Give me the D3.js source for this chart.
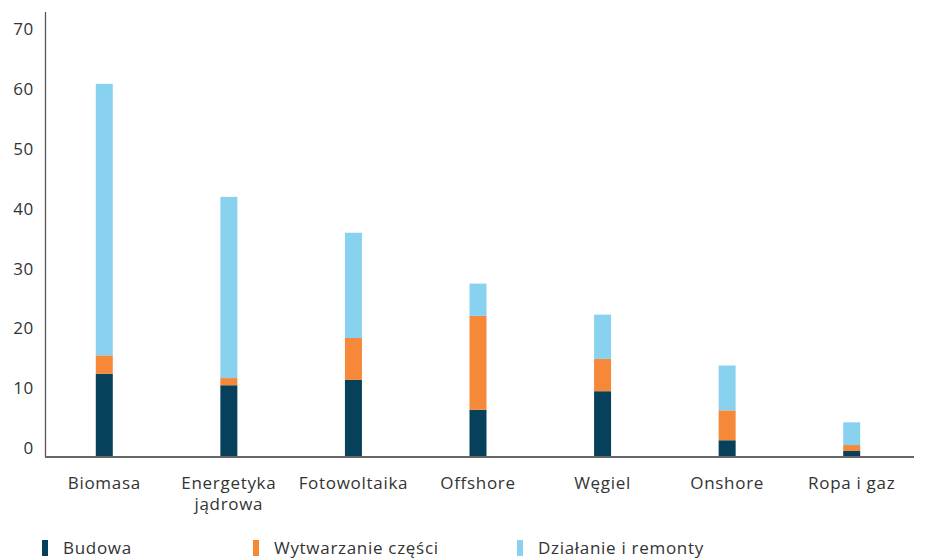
<!DOCTYPE html>
<html>
<head>
    <meta charset="utf-8">
    <script src="https://d3js.org/d3.v7.min.js"></script>
    <style>
        body { margin: 0; background-color: #ffffff; }
        text { font-family: "Open Sans", sans-serif; fill: #333333; letter-spacing: 0.7px; }
    </style>
</head>
<body>
    <svg id="canvas" width="927" height="558"></svg>
    <script>
        const svg = d3.select('#canvas');
        const FONT_SIZE = 17;
        const BAR_WIDTH = 17;

        //categories (x axis), multi-line labels split on '\n'
        const categories = ['Biomasa', 'Energetyka\njądrowa', 'Fotowoltaika', 'Offshore', 'Węgiel', 'Onshore', 'Ropa i gaz'];

        //series values
        const budowa = [13.9, 12.0, 12.9, 7.9, 11.0, 2.8, 1.0];
        const wytwarzanie = [3.1, 1.2, 7.0, 15.7, 5.4, 5.0, 1.0];
        const dzialanie = [45.4, 30.3, 17.6, 5.4, 7.4, 7.5, 3.8];

        const seriesNames = ['Budowa', 'Wytwarzanie części', 'Działanie i remonty'];
        const seriesColors = ['#07405a', '#f6883a', '#88d2ef'];
        const yTicks = [0, 10, 20, 30, 40, 50, 60, 70];

        const x = d3.scaleBand()
            .domain(categories)
            .range([42, 914]);

        const y = d3.scaleLinear()
            .domain([0, 70])
            .range([457, 38.4]);

        //build stacked layers
        const table = categories.map((c, i) => ({
            cat: c,
            [seriesNames[0]]: budowa[i],
            [seriesNames[1]]: wytwarzanie[i],
            [seriesNames[2]]: dzialanie[i]
        }));
        const stacked = d3.stack().keys(seriesNames)(table);

        //bars
        svg.append('g')
            .selectAll('g')
            .data(stacked)
            .join('g')
            .attr('fill', (d, i) => seriesColors[i])
            .selectAll('rect')
            .data(d => d)
            .join('rect')
            .attr('x', d => x(d.data.cat) + x.bandwidth() / 2 - BAR_WIDTH / 2)
            .attr('y', d => y(d[1]))
            .attr('width', BAR_WIDTH)
            .attr('height', d => y(d[0]) - y(d[1]));

        //y axis line
        svg.append('line')
            .attr('x1', 45.5).attr('x2', 45.5)
            .attr('y1', 12).attr('y2', 457)
            .attr('stroke', '#555555')
            .attr('stroke-width', 1.3);

        //x axis line
        svg.append('line')
            .attr('x1', 45).attr('x2', 914)
            .attr('y1', 457).attr('y2', 457)
            .attr('stroke', '#666666')
            .attr('stroke-width', 2);

        //y tick labels (sit a little above the value they mark)
        svg.append('g')
            .selectAll('text')
            .data(yTicks)
            .join('text')
            .attr('x', 34)
            .attr('y', d => y(d) - 9)
            .attr('dy', '0.35em')
            .attr('text-anchor', 'end')
            .style('font-size', FONT_SIZE + 'px')
            .text(d => d);

        //x category labels
        const xLabels = svg.append('g')
            .selectAll('text')
            .data(categories)
            .join('text')
            .attr('x', d => x(d) + x.bandwidth() / 2)
            .attr('y', 489)
            .attr('text-anchor', 'middle')
            .style('font-size', FONT_SIZE + 'px');
        xLabels.selectAll('tspan')
            .data(d => d.split('\n').map(line => ({ line, cx: x(d) + x.bandwidth() / 2 })))
            .join('tspan')
            .attr('x', d => d.cx)
            .attr('dy', (d, i) => i === 0 ? 0 : 21)
            .text(d => d.line);

        //legend
        const legendX = [42, 253, 517];
        const legend = svg.append('g')
            .selectAll('g')
            .data(seriesNames)
            .join('g')
            .attr('transform', (d, i) => `translate(${legendX[i]},540)`);
        legend.append('rect')
            .attr('width', 6)
            .attr('height', 16)
            .attr('fill', (d, i) => seriesColors[i]);
        legend.append('text')
            .attr('x', 21)
            .attr('y', 14)
            .style('font-size', FONT_SIZE + 'px')
            .text(d => d);
    </script>
</body>
</html>
